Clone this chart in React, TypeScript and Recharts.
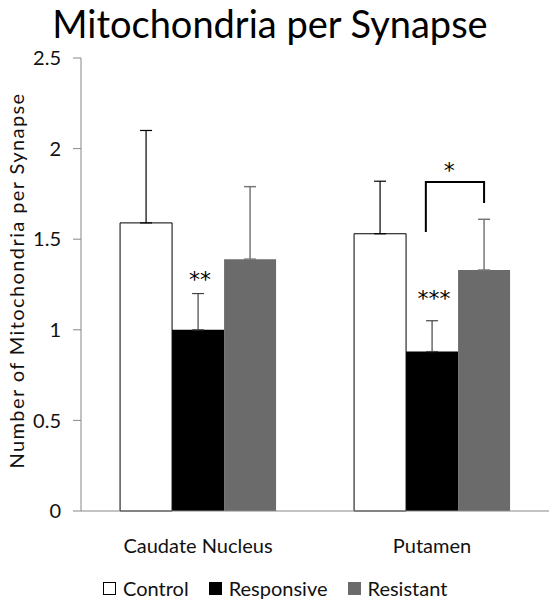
import { BarChart, Bar, XAxis, YAxis, ErrorBar, LabelList } from "recharts";

const regions = ["Caudate Nucleus", "Putamen"];
const controlMeans = [1.59, 1.53];
const controlErrs = [0.51, 0.29];
const responsiveMeans = [1.0, 0.88];
const responsiveErrs = [0.2, 0.17];
const resistantMeans = [1.39, 1.33];
const resistantErrs = [0.4, 0.28];

// significance marks over the Responsive bars (value where the stars sit)
const sigMarks = ["**", "***"];
const sigLevels = [1.28, 1.17];
// bracket between Responsive and Resistant in Putamen: [left end, top, right end]
const bracketLevels = [1.54, 1.815, 1.7];
const bracketStar = "*";
const bracketStarLevel = 1.88;

const yTicks = [0, 0.5, 1, 1.5, 2, 2.5];

const FONT = "Lato, 'Open Sans', sans-serif";
const STAR_FONT = "'DejaVu Sans', sans-serif";

const data = regions.map((region, i) => ({
  region,
  control: controlMeans[i],
  controlErr: [0, controlErrs[i]],
  responsive: responsiveMeans[i],
  responsiveErr: [0, responsiveErrs[i]],
  resistant: resistantMeans[i],
  resistantErr: [0, resistantErrs[i]],
}));

const legendItems = [
  { label: "Control", fill: "#ffffff", stroke: "#000000" },
  { label: "Responsive", fill: "#000000", stroke: "#000000" },
  { label: "Resistant", fill: "#6b6b6b", stroke: "#6b6b6b" },
];

const SigLabel = (props: any) => {
  const { x, y, width, height, value, index } = props;
  if (!value) return null;
  const ppu = height / value; // pixels per unit, taken from the bar itself
  const base = y + height;
  const cx = x + width / 2;
  const out = [
    <text
      key="s"
      x={cx + 2}
      y={base - sigLevels[index] * ppu}
      textAnchor="middle"
      dominantBaseline="central"
      fontFamily={STAR_FONT}
      fontSize={22}
      fill="#000"
    >
      {sigMarks[index]}
    </text>,
  ];
  if (index === 1) {
    const lx = x + width * 0.38;
    const rx = x + width * 1.5;
    const [l, t, r] = bracketLevels.map((v) => base - v * ppu);
    out.push(
      <path
        key="b"
        d={`M${lx},${l} L${lx},${t} L${rx},${t} L${rx},${r}`}
        fill="none"
        stroke="#000"
        strokeWidth={2}
      />,
      <text
        key="bs"
        x={lx + (rx - lx) * 0.4}
        y={base - bracketStarLevel * ppu}
        textAnchor="middle"
        dominantBaseline="central"
        fontFamily={STAR_FONT}
        fontSize={22}
        fill="#000"
      >
        {bracketStar}
      </text>
    );
  }
  return <g>{out}</g>;
};

export default function App() {
  return (
    <div style={{ position: "absolute", left: 0, top: 0, width: 550, height: 599, background: "#fff" }}>
      <div
        style={{
          position: "absolute",
          top: 4,
          left: 0,
          width: 540,
          textAlign: "center",
          fontFamily: FONT,
          fontSize: 38,
          lineHeight: 1,
          color: "#000",
        }}
      >
        Mitochondria per Synapse
      </div>
      <BarChart
        width={550}
        height={599}
        data={data}
        margin={{ top: 58, right: 1, bottom: 0, left: 0 }}
        barCategoryGap="16.7%"
        barGap={0}
      >
        <XAxis
          dataKey="region"
          height={87}
          axisLine={{ stroke: "#888" }}
          tickLine={false}
          tick={{ fontFamily: FONT, fontSize: 20, fill: "#111" }}
          dy={20}
        />
        <XAxis
          xAxisId="edges"
          type="number"
          domain={[0, 2]}
          ticks={[0, 1, 2]}
          axisLine={false}
          tick={false}
          tickLine={{ stroke: "#888" }}
          tickSize={6}
          height={1}
        />
        <YAxis
          width={81}
          domain={[0, 2.5]}
          ticks={yTicks}
          axisLine={{ stroke: "#888" }}
          tickLine={{ stroke: "#888" }}
          tickSize={8}
          tickMargin={12}
          tick={{ fontFamily: FONT, fontSize: 20, fill: "#111" }}
          label={{
            value: "Number of Mitochondria per Synapse",
            angle: -90,
            position: "insideLeft",
            dx: 12,
            dy: -4,
            style: { textAnchor: "middle", fontFamily: FONT, fontSize: 20, letterSpacing: 1.4, fill: "#111" },
          }}
        />
        <Bar dataKey="control" fill="#ffffff" stroke="#000" strokeWidth={1} isAnimationActive={false}>
          <ErrorBar dataKey="controlErr" direction="y" width={6} stroke="#000" strokeWidth={1.2} />
        </Bar>
        <Bar dataKey="responsive" fill="#000000" isAnimationActive={false}>
          <ErrorBar dataKey="responsiveErr" direction="y" width={6} stroke="#444" strokeWidth={1.2} />
          <LabelList dataKey="responsive" content={<SigLabel />} />
        </Bar>
        <Bar dataKey="resistant" fill="#6b6b6b" isAnimationActive={false}>
          <ErrorBar dataKey="resistantErr" direction="y" width={6} stroke="#777" strokeWidth={1.5} />
        </Bar>
      </BarChart>
      <div
        style={{
          position: "absolute",
          top: 576,
          left: 103,
          display: "flex",
          gap: 20,
          fontFamily: FONT,
          fontSize: 20,
          color: "#111",
        }}
      >
        {legendItems.map((item) => (
          <span key={item.label} style={{ display: "flex", alignItems: "center" }}>
            <span
              style={{
                display: "inline-block",
                width: 11,
                height: 11,
                background: item.fill,
                border: `1px solid ${item.stroke}`,
                marginRight: 7,
              }}
            />
            {item.label}
          </span>
        ))}
      </div>
    </div>
  );
}
